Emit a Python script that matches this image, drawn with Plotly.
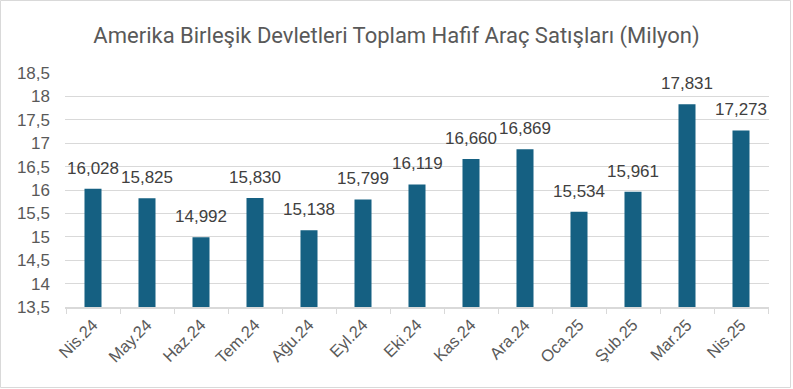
import plotly.graph_objects as go

categories = ["Nis.24", "May.24", "Haz.24", "Tem.24", "Ağu.24", "Eyl.24", "Eki.24",
              "Kas.24", "Ara.24", "Oca.25", "Şub.25", "Mar.25", "Nis.25"]
sales = [16.028, 15.825, 14.992, 15.830, 15.138, 15.799, 16.119,
         16.660, 16.869, 15.534, 15.961, 17.831, 17.273]
ytick_vals = [13.5, 14, 14.5, 15, 15.5, 16, 16.5, 17, 17.5, 18, 18.5]
ytick_text = ["13,5", "14", "14,5", "15", "15,5", "16", "16,5", "17", "17,5", "18", "18,5"]
title_text = "Amerika Birleşik Devletleri Toplam Hafif Araç Satışları (Milyon)"

W, H = 793, 389
L, R, T, B = 65, 24, 73, 82
pw, ph = W - L - R, H - T - B
FONT = "Liberation Sans, Arial, sans-serif"

fig = go.Figure(go.Bar(
    x=categories, y=sales,
    marker=dict(color="#156082", line=dict(width=0)),
    hoverinfo="skip",
))

annotations = [
    dict(x=c, y=v, xref="x", yref="y", text=f"{v:.3f}".replace(".", ","),
         showarrow=False, yanchor="bottom", xanchor="center", yshift=9,
         font=dict(family=FONT, size=17, color="#404040"))
    for c, v in zip(categories, sales)
]

fig.update_layout(
    width=W, height=H,
    margin=dict(l=L, r=R, t=T, b=B),
    paper_bgcolor="white", plot_bgcolor="white",
    bargap=0.685,
    showlegend=False,
    title=dict(text=title_text, x=0.5, xanchor="center", y=1 - 35 / H, yanchor="middle",
               font=dict(family="Roboto, sans-serif", size=22, color="#595959")),
    font=dict(family=FONT, color="#595959"),
    xaxis=dict(
        type="category",
        tickangle=-45,
        tickfont=dict(size=16.5, color="#595959"),
        showline=True, linecolor="#d9d9d9", linewidth=1.5,
        ticks="outside", tickson="boundaries", ticklen=5, tickcolor="#d9d9d9",
        showgrid=False, fixedrange=True,
    ),
    yaxis=dict(
        range=[13.5, 18.5],
        tickvals=ytick_vals, ticktext=ytick_text,
        tickfont=dict(size=17, color="#595959"),
        showgrid=True, gridcolor="#d9d9d9", gridwidth=1.3,
        zeroline=False, showline=False, ticks="",
        ticklabelstandoff=14, fixedrange=True,
    ),
    annotations=annotations,
    shapes=[dict(
        type="rect", xref="paper", yref="paper",
        x0=(0.5 - L) / pw, x1=(790.5 - L) / pw,
        y0=(H - B - 387.5) / ph, y1=(H - B - 0.5) / ph,
        line=dict(color="#d9d9d9", width=1), fillcolor="rgba(0,0,0,0)", layer="below",
    )],
)

fig.write_html("out.html", config={"displayModeBar": False},
               post_script="document.body.style.margin='0';document.body.style.overflow='hidden';")
